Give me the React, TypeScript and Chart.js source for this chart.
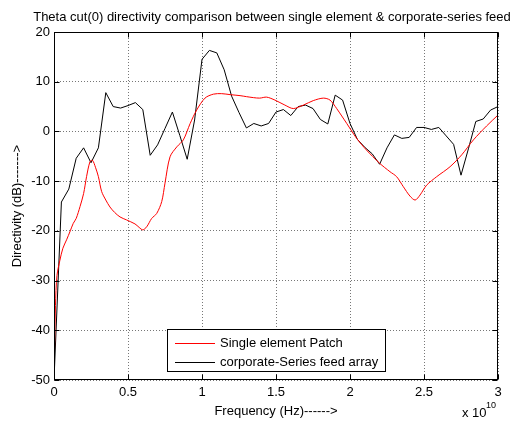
import React, { useEffect, useRef } from 'react';
import { Chart, registerables } from 'chart.js';

Chart.register(...registerables);

// Frequency in units of 1e10 Hz
const freqBlack = [
  0, 0.05, 0.1, 0.15, 0.2, 0.25, 0.3, 0.35, 0.4, 0.45, 0.5, 0.55, 0.6, 0.65, 0.7, 0.75, 0.8, 0.85, 0.9, 0.95,
  1.0, 1.05, 1.1, 1.15, 1.2, 1.25, 1.3, 1.35, 1.4, 1.45, 1.5, 1.55, 1.6, 1.65, 1.7, 1.75, 1.8, 1.85, 1.9, 1.95,
  2.0, 2.05, 2.1, 2.15, 2.2, 2.25, 2.3, 2.35, 2.4, 2.45, 2.5, 2.55, 2.6, 2.65, 2.7, 2.75, 2.8, 2.85, 2.9, 2.95, 3.0,
];
const corporateSeries = [
  -50, -14.2, -11.6, -5.4, -3.3, -6.3, -3.3, 7.8, 5.0, 4.7, 5.2, 5.8, 4.4, -4.8, -2.7, 0.6, 3.9, -0.8, -5.6, 2.3,
  14.5, 16.3, 15.8, 12.4, 7.1, 3.8, 0.7, 1.6, 1.1, 1.6, 3.9, 4.4, 3.2, 5.0, 5.3, 4.6, 2.4, 1.5, 7.3, 6.3,
  1.6, -1.6, -3.2, -4.5, -6.6, -3.3, -0.7, -1.4, -1.2, 0.8, 0.8, 0.4, 0.8, -0.9, -2.6, -8.8, -3.5, 2.0, 2.5, 4.3, 5.0,
];

const freqRed = [
  0, 0.01, 0.02, 0.04, 0.06, 0.085, 0.11, 0.13, 0.15, 0.176, 0.2, 0.22, 0.243, 0.26, 0.28, 0.3, 0.322, 0.35,
  0.378, 0.41, 0.446, 0.49, 0.547, 0.575, 0.6, 0.626, 0.66, 0.694, 0.728, 0.75, 0.784, 0.83, 0.874, 0.92,
  0.964, 1.02, 1.077, 1.133, 1.19, 1.257, 1.3, 1.347, 1.39, 1.437, 1.493, 1.56, 1.617, 1.685, 1.752, 1.82,
  1.865, 1.91, 1.978, 2.045, 2.11, 2.2, 2.27, 2.315, 2.36, 2.405, 2.44, 2.473, 2.518, 2.586, 2.676, 2.755,
  2.834, 2.923, 3.0,
];
const singleElement = [
  -49.7, -35, -29, -25.9, -23.5, -21.8, -20, -18.5, -17.5, -15.1, -12.5, -9.1, -6.1, -5.8, -7.2, -9.1, -12.1, -13.8,
  -15.2, -16.3, -17.2, -17.8, -18.6, -19.3, -19.8, -19.2, -17.5, -16.5, -14.1, -10.4, -5.1, -3.1, -1.7, 1.6,
  4.3, 6.7, 7.5, 7.6, 7.4, 7.2, 7.0, 6.8, 6.7, 6.9, 6.3, 5.3, 4.6, 5.3, 6.2, 6.7,
  6.3, 4.6, 1.6, -1.4, -3.7, -6.4, -8.1, -9.1, -11.1, -13, -13.8, -12.8, -10.8, -9.1, -7.1, -4.7,
  -1.7, 1.1, 3.3,
];

const xTicks = [0, 0.5, 1, 1.5, 2, 2.5, 3];
const yTicks = [20, 10, 0, -10, -20, -30, -40, -50];

const titleText = 'Theta cut(0) directivity comparison between single element & corporate-series feed';
const xLabel = 'Frequency (Hz)------>';
const yLabel = 'Directivity (dB)------->';
const legendLabels = ['Single element Patch', 'corporate-Series feed array'];
const seriesColors = ['#ff0000', '#000000'];

const FONT = '"Liberation Sans", Arial, sans-serif';

const decorPlugin = {
  id: 'decor',
  beforeDraw(chart: any) {
    const { ctx, width, height } = chart;
    ctx.save();
    ctx.fillStyle = '#ffffff';
    ctx.fillRect(0, 0, width, height);
    ctx.restore();
  },
  afterDatasetsDraw(chart: any) {
    const { ctx, chartArea: a, scales } = chart;
    const L = Math.round(a.left) + 0.5;
    const R = Math.round(a.right) - 0.5;
    const T = Math.round(a.top) + 0.5;
    const B = Math.round(a.bottom) - 0.5;
    ctx.save();
    ctx.strokeStyle = '#000';
    ctx.lineWidth = 1;
    ctx.strokeRect(L, T, R - L, B - T);
    // inward ticks
    const tl = 5;
    ctx.beginPath();
    xTicks.forEach((v) => {
      const x = Math.round(scales.x.getPixelForValue(v)) + 0.5;
      ctx.moveTo(x, B); ctx.lineTo(x, B - tl);
      ctx.moveTo(x, T); ctx.lineTo(x, T + tl);
    });
    yTicks.forEach((v) => {
      const y = Math.round(scales.y.getPixelForValue(v)) + 0.5;
      ctx.moveTo(L, y); ctx.lineTo(L + tl, y);
      ctx.moveTo(R, y); ctx.lineTo(R - tl, y);
    });
    ctx.stroke();

    // legend box
    const lx = 167, ly = 329, lw = 219, lh = 43;
    ctx.fillStyle = '#fff';
    ctx.fillRect(lx, ly, lw, lh);
    ctx.strokeRect(lx + 0.5, ly + 0.5, lw - 1, lh - 1);
    ctx.font = '13px ' + FONT;
    ctx.textBaseline = 'middle';
    ctx.textAlign = 'left';
    legendLabels.forEach((lab, i) => {
      const y = ly + 14 + i * 19;
      ctx.strokeStyle = seriesColors[i];
      ctx.beginPath();
      ctx.moveTo(lx + 8, y + 0.5);
      ctx.lineTo(lx + 48, y + 0.5);
      ctx.stroke();
      ctx.fillStyle = '#000';
      ctx.fillText(lab, lx + 53, y);
    });

    // texts
    ctx.fillStyle = '#000';
    ctx.textAlign = 'center';
    ctx.textBaseline = 'alphabetic';
    ctx.font = '13px ' + FONT;
    ctx.fillText(titleText, 272, 21);
    ctx.fillText(xLabel, (a.left + a.right) / 2, 415);
    ctx.save();
    ctx.translate(21, (a.top + a.bottom) / 2);
    ctx.rotate(-Math.PI / 2);
    ctx.fillText(yLabel, 0, 0);
    ctx.restore();
    ctx.textAlign = 'left';
    ctx.fillText('x 10', 462, 417);
    ctx.font = '9px ' + FONT;
    ctx.fillText('10', 486, 408);
    ctx.restore();
  },
};

export default function App() {
  const ref = useRef<HTMLCanvasElement>(null);
  useEffect(() => {
    if (!ref.current) return;
    const chart = new Chart(ref.current, {
      type: 'scatter',
      data: {
        datasets: [
          {
            label: legendLabels[0],
            data: freqRed.map((x, i) => ({ x, y: singleElement[i] })),
            showLine: true,
            borderColor: seriesColors[0],
            borderWidth: 1,
            pointRadius: 0,
            tension: 0.3,
          },
          {
            label: legendLabels[1],
            data: freqBlack.map((x, i) => ({ x, y: corporateSeries[i] })),
            showLine: true,
            borderColor: seriesColors[1],
            borderWidth: 1,
            pointRadius: 0,
            tension: 0,
          },
        ],
      },
      options: {
        animation: false,
        responsive: false,
        layout: { padding: { left: 0, right: 20, top: 32, bottom: 0 } },
        plugins: { legend: { display: false }, tooltip: { enabled: false }, title: { display: false } },
        scales: {
          x: {
            type: 'linear',
            min: 0,
            max: 3,
            afterFit: (s: any) => { s.height = 45; },
            afterBuildTicks: (s: any) => { s.ticks = xTicks.map((v) => ({ value: v })); },
            grid: { color: '#777', lineWidth: 1, drawTicks: false },
            border: { display: false, dash: [1, 2] },
            ticks: {
              color: '#000',
              font: { family: FONT, size: 13 },
              padding: 5,
              maxRotation: 0,
              callback: (v: any) => String(v),
            },
          },
          y: {
            type: 'linear',
            min: -50,
            max: 20,
            afterFit: (s: any) => { s.width = 54; },
            afterBuildTicks: (s: any) => { s.ticks = yTicks.map((v) => ({ value: v })); },
            grid: { color: '#777', lineWidth: 1, drawTicks: false },
            border: { display: false, dash: [1, 2] },
            ticks: {
              color: '#000',
              font: { family: FONT, size: 13 },
              padding: 4,
              callback: (v: any) => String(v),
            },
          },
        },
      },
      plugins: [decorPlugin],
    });
    return () => chart.destroy();
  }, []);
  return (
    <div style={{ position: 'absolute', left: 0, top: 0, width: 518, height: 425 }}>
      <canvas ref={ref} width={518} height={425} style={{ width: 518, height: 425, display: 'block' }} />
    </div>
  );
}
